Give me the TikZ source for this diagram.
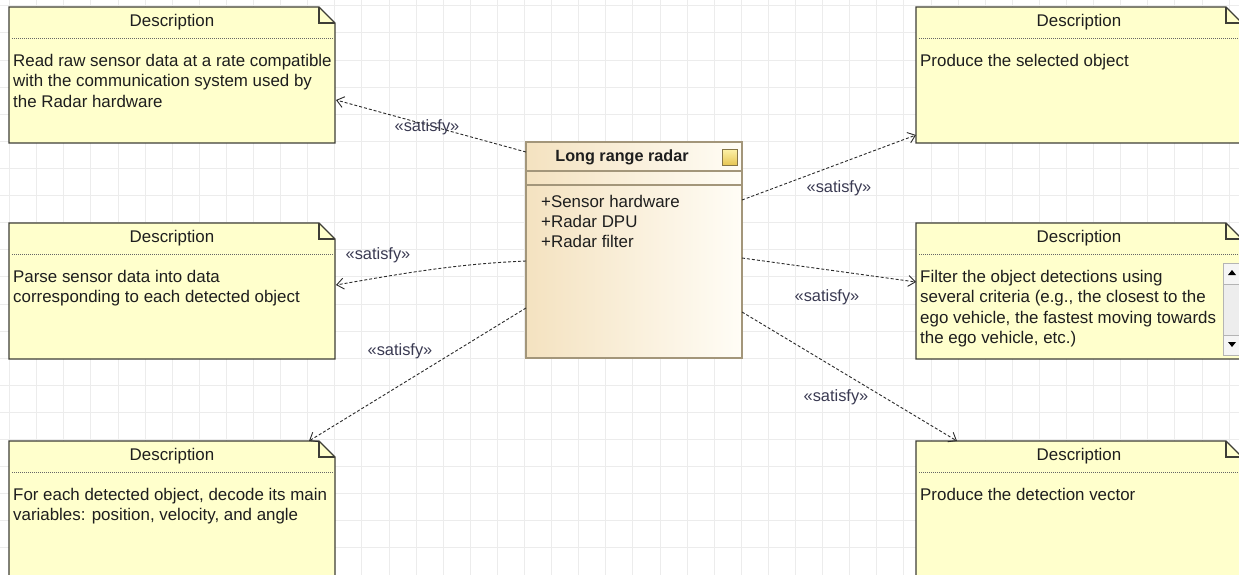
\documentclass[tikz,border=0pt]{standalone}
\usepackage{fontspec}
\setmainfont{Liberation Sans}
\usetikzlibrary{arrows.meta,calc}

\definecolor{gridc}{HTML}{ECECEC}
\definecolor{notefill}{HTML}{FFFFCC}
\definecolor{noteedge}{HTML}{3E3E36}
\definecolor{inkc}{HTML}{1E1E1E}
\definecolor{clsA}{HTML}{F4E2C0}
\definecolor{clsB}{HTML}{FFFDF6}
\definecolor{clsedge}{HTML}{A3967A}
\definecolor{iconA}{HTML}{FCF0A6}
\definecolor{iconB}{HTML}{E6C552}
\definecolor{iconedge}{HTML}{857546}
\definecolor{linkc}{HTML}{2A2A2A}
\definecolor{stereoc}{HTML}{3A3A52}
\definecolor{scrollbg}{HTML}{EDEDED}
\definecolor{scrollbtn}{HTML}{F5F5F5}
\definecolor{scrolledge}{HTML}{B4B4B4}

\tikzset{
  gridline/.style={draw=gridc, line width=1pt},
  notebox/.style={rectangle, anchor=north west, minimum width=326pt,
    inner sep=0pt, outer sep=0pt},
  noteframe/.style={fill=notefill, draw=noteedge, line width=1.3pt},
  notefold/.style={draw=noteedge, line width=1.1pt},
  notetitle/.style={font=\fontsize{16.9}{20}\selectfont, text=inkc, inner sep=0pt},
  notesep/.style={draw=gray!80!black, line width=0.8pt, dash pattern=on 1pt off 1pt},
  notebody/.style={anchor=north west, align=left, inner sep=0pt, text=inkc,
    font=\fontsize{16.9}{20.5}\selectfont},
  clsbox/.style={rectangle, anchor=north west, minimum width=216pt,
    minimum height=216pt, inner sep=0pt, outer sep=0pt,
    left color=clsA, right color=clsB, draw=clsedge, line width=1.3pt},
  clsline/.style={draw=clsedge, line width=1.1pt},
  clstitle/.style={font=\bfseries\fontsize{16.2}{20}\selectfont, text=inkc, inner sep=0pt},
  clsicon/.style={rectangle, minimum width=15pt, minimum height=16pt, inner sep=0pt,
    top color=iconA, bottom color=iconB, draw=iconedge, line width=1pt},
  clsattrs/.style={anchor=north west, align=left, inner sep=0pt, text=inkc,
    font=\fontsize{16.9}{20}\selectfont},
  satisfy/.style={draw=linkc, line width=0.9pt, dash pattern=on 3pt off 2pt,
    -{Straight Barb[length=7pt,width=11pt,line width=0.9pt]}},
  stereo/.style={text=stereoc, inner sep=1pt, font=\fontsize{16.4}{18}\selectfont},
}

% Requirement note with a folded corner: name, x, y, height, body text
\newcommand\descnote[5]{%
  \node[notebox, minimum height=#4pt] (#1) at (#2,#3) {};
  \path[noteframe] (#1.north west) -- ([xshift=-16pt]#1.north east)
    -- ([yshift=-16pt]#1.north east) -- (#1.south east) -- (#1.south west) -- cycle;
  \draw[notefold] ([xshift=-16pt]#1.north east) |- ([yshift=-16pt]#1.north east);
  \node[notetitle] (#1-title) at ([yshift=-15pt]#1.north) {Description};
  \draw[notesep] ([xshift=3pt,yshift=-31pt]#1.north west)
    -- ([xshift=-2pt,yshift=-31pt]#1.north east);
  \node[notebody] (#1-text) at ([xshift=4pt,yshift=-47pt]#1.north west) {#5};
}

\begin{document}
\begin{tikzpicture}[x=1pt,y=-1pt]
  \clip (0,0) rectangle (1239,575);
  \fill[white] (0,0) rectangle (1239,575);

  % background grid
  \foreach \i in {0,...,45} {
    \draw[gridline] ({9.6+27.1*\i},0) -- ({9.6+27.1*\i},575);
  }
  \foreach \j in {0,...,21} {
    \draw[gridline] (0,{5.9+27.1*\j}) -- (1239,{5.9+27.1*\j});
  }

  % requirement notes
  \descnote{nRead}{9}{7}{136}{Read raw sensor data at a rate compatible\\
    with the communication system used by\\the Radar hardware}
  \descnote{nParse}{9}{223}{136}{Parse sensor data into data\\
    corresponding to each detected object}
  \descnote{nDecode}{9}{441}{150}{For each detected object, decode its main\\
    variables: position, velocity, and angle}
  \descnote{nSelect}{916}{7}{136}{Produce the selected object}
  \descnote{nFilter}{916}{223}{136}{Filter the object detections using\\
    several criteria (e.g., the closest to the\\ego vehicle, the fastest moving towards\\
    the ego vehicle, etc.)}
  \descnote{nVector}{916}{441}{150}{Produce the detection vector}

  % scroll bar of the filter note
  \filldraw[fill=scrollbg, draw=scrolledge, line width=0.8pt] (1223,263) rectangle (1242,355);
  \filldraw[fill=scrollbtn, draw=scrolledge, line width=0.8pt] (1223,263) rectangle (1242,284);
  \filldraw[fill=scrollbtn, draw=scrolledge, line width=0.8pt] (1223,335) rectangle (1242,355);
  \fill[black] (1228,275) -- (1236,275) -- (1232,270) -- cycle;
  \fill[black] (1228,342) -- (1236,342) -- (1232,347) -- cycle;

  % block
  \node[clsbox] (cls) at (526,142) {};
  \draw[clsline] ($(cls.north west)+(0,29)$) -- ($(cls.north east)+(0,29)$);
  \draw[clsline] ($(cls.north west)+(0,43)$) -- ($(cls.north east)+(0,43)$);
  \node[clstitle] (clsname) at (622,157) {Long range radar};
  \node[clsicon] (clsmark) at (729.5,157.5) {};
  \node[clsattrs] (clsparts) at (541,195) {+Sensor hardware\\+Radar DPU\\+Radar filter};

  % satisfy relations
  \draw[satisfy] ($(cls.north west)+(0,10)$) -- ($(nRead.north east)+(1,93)$);
  \draw[satisfy] ($(cls.north west)+(0,119)$) .. controls ($(cls.north west)+(-70,122)$)
    and ($(nParse.north east)+(70,50)$) .. ($(nParse.north east)+(1,62)$);
  \draw[satisfy] ($(cls.north west)+(0,166)$) -- ($(nDecode.north east)+(-26,0)$);
  \draw[satisfy] ($(cls.north east)+(0,58)$) -- ($(nSelect.south west)+(0,-8)$);
  \draw[satisfy] ($(cls.north east)+(0,116)$) -- ($(nFilter.north west)+(0,59)$);
  \draw[satisfy] ($(cls.north east)+(0,170)$) -- ($(nVector.north west)+(41,0)$);

  % stereotype labels
  \node[stereo] (lRead) at (427,127) {«satisfy»};
  \node[stereo] (lParse) at (378,255) {«satisfy»};
  \node[stereo] (lDecode) at (400,351) {«satisfy»};
  \node[stereo] (lSelect) at (839,188) {«satisfy»};
  \node[stereo] (lFilter) at (827,297) {«satisfy»};
  \node[stereo] (lVector) at (836,397) {«satisfy»};
\end{tikzpicture}
\end{document}
